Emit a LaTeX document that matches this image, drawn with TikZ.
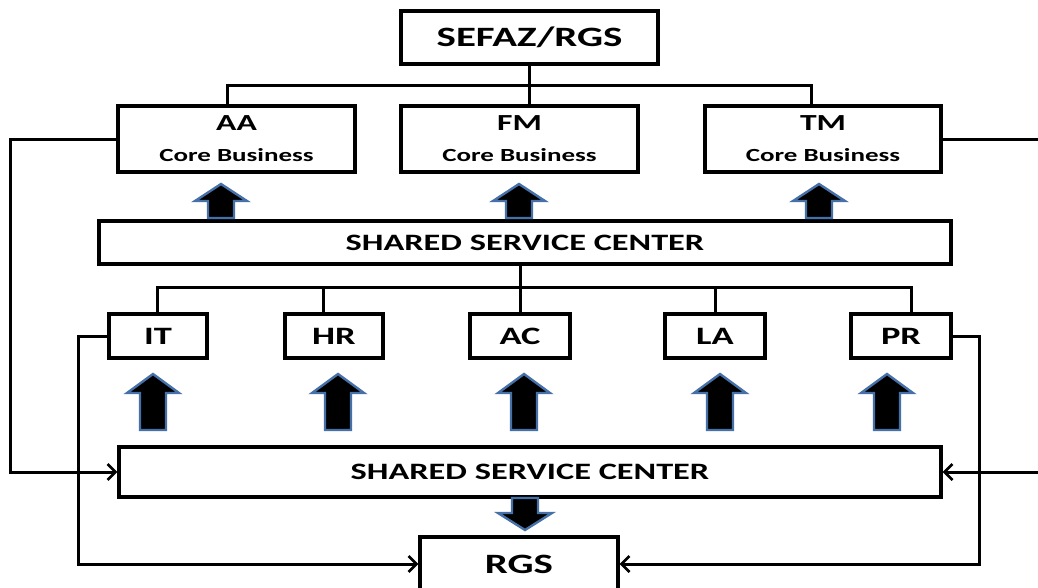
\documentclass[tikz,border=0pt]{standalone}
\usepackage{fontspec}
\setmainfont{Carlito}[FakeStretch=1.46]
\usetikzlibrary{arrows.meta}
\definecolor{arrowedge}{RGB}{70,112,168}
\tikzset{
  box/.style={draw=black, line width=3.3pt, fill=white, inner sep=0pt, align=center, font=\bfseries},
  conn/.style={draw=black, line width=3pt},
  tip/.style={-{Straight Barb[length=8pt,width=16pt,line width=2.6pt]}},
  blockarrow/.style={fill=black, draw=arrowedge, line width=2.4pt, line join=miter}
}
\newcommand\blockup[6]{% x, ytip, yhead, ybottom, headhalf, shafthalf
  \draw[blockarrow] (#1,#2) -- (#1+#5,#3) -- (#1+#6,#3) -- (#1+#6,#4) -- (#1-#6,#4) -- (#1-#6,#3) -- (#1-#5,#3) -- cycle;}
\newcommand\corebox[1]{{\fontsize{23}{25}\selectfont #1}\\[17pt]{\fontsize{18.5}{20}\selectfont Core Business}}
\begin{document}
\begin{tikzpicture}[x=1pt,y=-1pt]
\useasboundingbox (0,0) rectangle (1038,587);
\clip (0,0) rectangle (1038,587);
% top level
\node[box, minimum width=257, minimum height=53, font=\bfseries\fontsize{28}{30}\selectfont] (sefaz) at (529.5,37.5) {SEFAZ/RGS};
\node[box, minimum width=237, minimum height=66] (aa) at (236.5,139) {\corebox{AA}};
\node[box, minimum width=237, minimum height=66] (fm) at (519.5,139) {\corebox{FM}};
\node[box, minimum width=236, minimum height=66] (tm) at (823,139) {\corebox{TM}};
% shared service center 1
\node[box, minimum width=852, minimum height=43, font=\bfseries\fontsize{23.5}{25}\selectfont] (ssca) at (525,242.5) {SHARED SERVICE CENTER};
% second row
\node[box, minimum width=98, minimum height=44, font=\bfseries\fontsize{25}{27}\selectfont] (it) at (158,336) {IT};
\node[box, minimum width=98, minimum height=44, font=\bfseries\fontsize{25}{27}\selectfont] (hr) at (334,336) {HR};
\node[box, minimum width=100, minimum height=44, font=\bfseries\fontsize{25}{27}\selectfont] (ac) at (520,336) {AC};
\node[box, minimum width=100, minimum height=44, font=\bfseries\fontsize{25}{27}\selectfont] (la) at (715,336) {LA};
\node[box, minimum width=100, minimum height=44, font=\bfseries\fontsize{25}{27}\selectfont] (pr) at (901,336) {PR};
% shared service center 2
\node[box, minimum width=822, minimum height=50, font=\bfseries\fontsize{23.5}{25}\selectfont] (sscb) at (530,472) {SHARED SERVICE CENTER};
% RGS
\node[box, minimum width=198, minimum height=54, font=\bfseries\fontsize{28}{30}\selectfont] (rgs) at (519,564) {RGS};
% tree connectors top
\coordinate (busL) at (227,85);
\coordinate (busR) at (811,85);
\draw[conn] (busL |- aa.north) -- (busL) -- (busR) -- (busR |- tm.north);
\draw[conn] (sefaz.south) -- (sefaz.south |- fm.north);
% tree connectors middle
\coordinate (bus2L) at (157,287);
\coordinate (bus2R) at (911,287);
\draw[conn] (ssca.south -| ac.north) -- (ac.north);
\draw[conn] (bus2L |- it.north) -- (bus2L) -- (bus2R) -- (bus2R |- pr.north);
\draw[conn] (323,287) -- (323,0 |- hr.north);
\draw[conn] (la.north |- bus2L) -- (la.north);
% side loops
\draw[conn, tip] (aa.west) -- ++(-106,0) |- (sscb.west);
\draw[conn, tip] (tm.east) -- (1046,139) |- (sscb.east);
\draw[conn, tip] (it.west) -- ++(-29,0) |- (rgs.west);
\draw[conn, tip] (pr.east) -- ++(27,0) |- (rgs.east);
% block arrows top
\blockup{221}{184}{201}{218}{26}{13}
\blockup{519}{184}{201}{218}{26}{13}
\blockup{819}{184}{201}{218}{26}{13}
% block arrows middle
\blockup{153}{374}{393}{430}{26}{13}
\blockup{338}{374}{393}{430}{26}{13}
\blockup{524}{374}{393}{430}{26}{13}
\blockup{720}{374}{393}{430}{26}{13}
\blockup{887}{374}{393}{430}{26}{13}
% block arrow down
\blockup{525}{530}{513}{498}{27}{13}
\end{tikzpicture}
\end{document}
